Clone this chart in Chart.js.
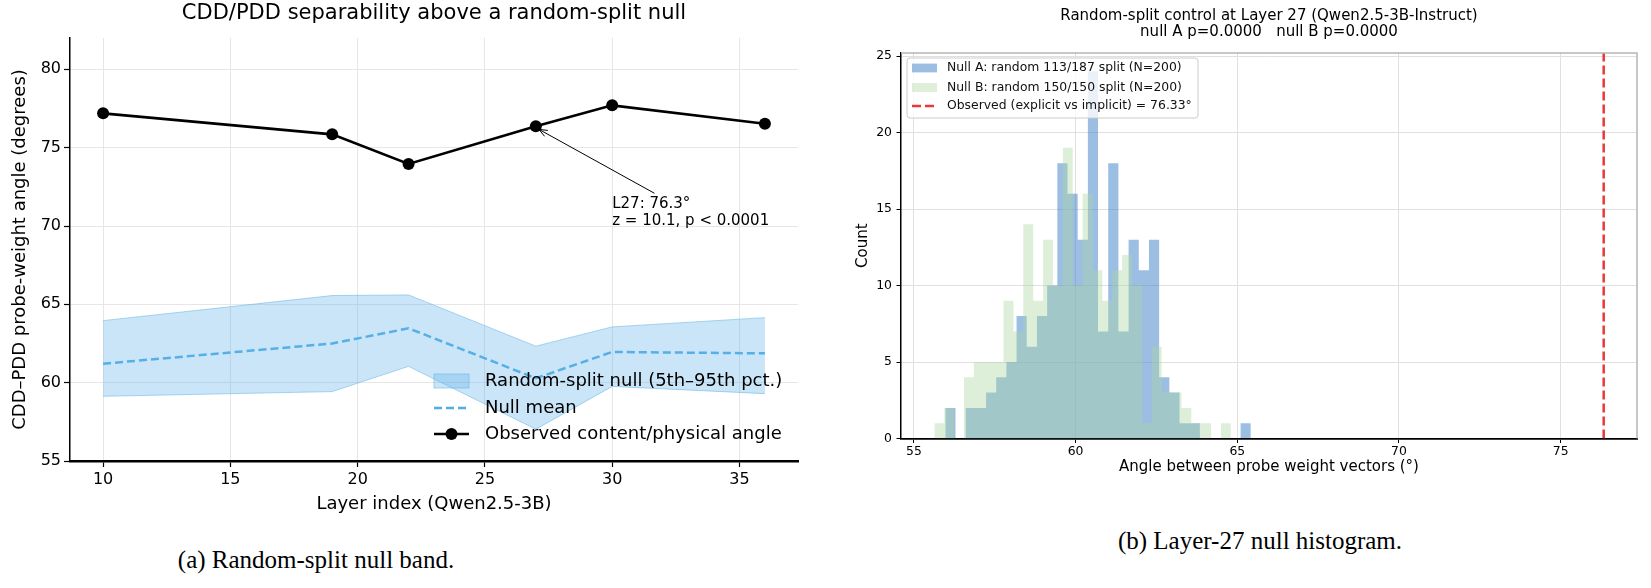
<!DOCTYPE html>
<html>
<head>
<meta charset="utf-8">
<script src="https://cdn.jsdelivr.net/npm/chart.js@4.4.1/dist/chart.umd.min.js"></script>
<style>
  body { margin: 0; background: #fff; width: 1651px; height: 588px; overflow: hidden; position: relative; }
  #bandWrap { position: absolute; left: 0; top: 0; width: 830px; height: 520px; }
  #histWrap { position: absolute; left: 840px; top: 0; width: 811px; height: 520px; }
  .caption {
    position: absolute;
    font-family: "Liberation Serif", "Times New Roman", serif;
    font-size: 25px;
    color: #000;
    white-space: nowrap;
    transform: translateX(-50%);
  }
</style>
</head>
<body>
<div id="bandWrap"><canvas id="bandChart" width="830" height="520"></canvas></div>
<div id="histWrap"><canvas id="histChart" width="811" height="520"></canvas></div>
<div class="caption" style="left:316px; top:546px">(a) Random-split null band.</div>
<div class="caption" style="left:1260px; top:527px">(b) Layer-27 null histogram.</div>

<script>
// ---- panel (a): observed angle vs random-split null, per layer ----
const layers = [10, 19, 22, 27, 30, 36];
const observedAngle = [77.19, 75.85, 73.96, 76.36, 77.70, 76.53];
const nullMean = [61.21, 62.50, 63.47, 60.28, 61.96, 61.87];
const nullLow = [59.13, 59.43, 61.04, 57.03, 59.76, 59.30];
const nullHigh = [63.96, 65.56, 65.60, 62.33, 63.56, 64.15];
const layerTicks = [10, 15, 20, 25, 30, 35];
const angleTicks = [55, 60, 65, 70, 75, 80];

// ---- panel (b): layer-27 null histograms (30 bins each) ----
const binEdgesA = [55.970, 56.285, 56.600, 56.915, 57.230, 57.544, 57.859, 58.174, 58.489, 58.804,
  59.119, 59.434, 59.749, 60.064, 60.379, 60.693, 61.008, 61.323, 61.638, 61.953,
  62.268, 62.583, 62.898, 63.213, 63.528, 63.843, 64.157, 64.472, 64.787, 65.102, 65.417];
const countsA = [2, 0, 2, 2, 3, 4, 5, 8, 6, 8, 10, 18, 16, 13, 24, 7, 18, 7, 13, 11,
  13, 4, 3, 1, 1, 0, 0, 0, 0, 1];
const binEdgesB = [55.632, 55.938, 56.243, 56.549, 56.854, 57.160, 57.466, 57.771, 58.077, 58.382,
  58.688, 58.994, 59.299, 59.605, 59.910, 60.216, 60.522, 60.827, 61.133, 61.438,
  61.744, 62.050, 62.355, 62.661, 62.966, 63.272, 63.578, 63.883, 64.189, 64.494, 64.800];
const countsB = [1, 2, 0, 4, 5, 5, 5, 9, 7, 14, 9, 13, 10, 19, 10, 16, 11, 9, 11, 12,
  10, 1, 6, 3, 3, 2, 1, 1, 0, 1];
const observedL27 = 76.33;
const histAngleTicks = [55, 60, 65, 70, 75];
const countTicks = [0, 5, 10, 15, 20, 25];

const bandFill = "rgba(100, 180, 232, 0.34)";
const bandEdge = "rgba(100, 180, 232, 0.55)";
const meanBlue = "#4fade6";
const blueA = "rgba(60, 125, 200, 0.5)";
const greenB = "rgba(171, 215, 159, 0.4)";
const obsRed = "rgba(230, 35, 35, 0.9)";

Chart.defaults.font.family = "DejaVu Sans";
Chart.defaults.color = "#000";
Chart.defaults.animation = false;

const pts = (xs, ys) => xs.map((x, i) => ({ x: x, y: ys[i] }));
// histogram outline: each edge carries the count of the bin to its right
const histPts = (edges, counts) => edges.map((x, i) => ({ x: x, y: i < counts.length ? counts[i] : 0 }));
const fixTicks = (values) => (scale) => { scale.ticks = values.map((v) => ({ value: v })); };

function drawArrow(ctx, x1, y1, x2, y2) {
  const a = Math.atan2(y2 - y1, x2 - x1);
  const len = 9;
  ctx.beginPath();
  ctx.moveTo(x1, y1);
  ctx.lineTo(x2, y2);
  ctx.stroke();
  ctx.beginPath();
  ctx.moveTo(x2 - len * Math.cos(a - 0.38), y2 - len * Math.sin(a - 0.38));
  ctx.lineTo(x2, y2);
  ctx.lineTo(x2 - len * Math.cos(a + 0.38), y2 - len * Math.sin(a + 0.38));
  ctx.stroke();
}

// titles, axis labels, annotation and legend for panel (a)
const bandDecor = {
  id: "bandDecor",
  afterDraw(chart) {
    const { ctx, chartArea: area, scales } = chart;
    const cx = (area.left + area.right) / 2;
    ctx.save();
    ctx.fillStyle = "#000";
    ctx.textAlign = "center";
    ctx.textBaseline = "middle";
    ctx.font = "21px 'DejaVu Sans'";
    ctx.fillText("CDD/PDD separability above a random-split null", cx, 14);
    ctx.font = "18px 'DejaVu Sans'";
    ctx.fillText("Layer index (Qwen2.5-3B)", cx, 504);
    ctx.save();
    ctx.translate(20, (area.top + area.bottom) / 2);
    ctx.rotate(-Math.PI / 2);
    ctx.fillText("CDD\u2013PDD probe-weight angle (degrees)", 0, 0);
    ctx.restore();

    // annotation at layer 27
    const X = scales.x, Y = scales.y;
    ctx.strokeStyle = "#000";
    ctx.lineWidth = 1;
    drawArrow(ctx, X.getPixelForValue(31.66), Y.getPixelForValue(72.09),
      X.getPixelForValue(27.12), Y.getPixelForValue(76.17));
    ctx.font = "15px 'DejaVu Sans'";
    ctx.textAlign = "left";
    const tx = X.getPixelForValue(30);
    const ty = Y.getPixelForValue(71.4);
    ctx.fillText("L27: 76.3\u00b0", tx, ty);
    ctx.fillText("z = 10.1, p < 0.0001", tx, ty + 17);

    // legend (no frame)
    const sx = 434, sw = 35, tx2 = 485;
    const rows = [381, 408, 434];
    ctx.font = "18px 'DejaVu Sans'";
    ctx.fillStyle = bandFill;
    ctx.fillRect(sx, rows[0] - 7, sw, 14);
    ctx.strokeStyle = bandEdge;
    ctx.lineWidth = 1;
    ctx.strokeRect(sx, rows[0] - 7, sw, 14);
    ctx.strokeStyle = meanBlue;
    ctx.lineWidth = 2.5;
    ctx.setLineDash([8, 4]);
    ctx.beginPath(); ctx.moveTo(sx, rows[1]); ctx.lineTo(sx + sw, rows[1]); ctx.stroke();
    ctx.setLineDash([]);
    ctx.strokeStyle = "#000";
    ctx.beginPath(); ctx.moveTo(sx, rows[2]); ctx.lineTo(sx + sw, rows[2]); ctx.stroke();
    ctx.fillStyle = "#000";
    ctx.beginPath(); ctx.arc(sx + sw / 2, rows[2], 6, 0, Math.PI * 2); ctx.fill();
    ctx.fillText("Random-split null (5th\u201395th pct.)", tx2, rows[0]);
    ctx.fillText("Null mean", tx2, rows[1]);
    ctx.fillText("Observed content/physical angle", tx2, rows[2]);
    ctx.restore();
  }
};

new Chart(document.getElementById("bandChart"), {
  type: "line",
  data: {
    datasets: [
      {
        label: "Random-split null (5th\u201395th pct.)",
        data: pts(layers, nullHigh),
        borderColor: bandEdge,
        borderWidth: 1,
        backgroundColor: bandFill,
        pointRadius: 0,
        fill: "+1",
      },
      {
        label: "null low",
        data: pts(layers, nullLow),
        borderColor: bandEdge,
        borderWidth: 1,
        pointRadius: 0,
        fill: false,
      },
      {
        label: "Null mean",
        data: pts(layers, nullMean),
        borderColor: meanBlue,
        borderWidth: 2.5,
        borderDash: [8, 4],
        pointRadius: 0,
        fill: false,
      },
      {
        label: "Observed content/physical angle",
        data: pts(layers, observedAngle),
        borderColor: "#000",
        backgroundColor: "#000",
        borderWidth: 2.6,
        pointRadius: 6,
        pointBorderWidth: 0,
        fill: false,
      },
    ],
  },
  options: {
    responsive: false,
    layout: { autoPadding: false, padding: { left: 0, right: 32, top: 38, bottom: 0 } },
    plugins: { legend: { display: false }, tooltip: { enabled: false } },
    scales: {
      x: {
        type: "linear",
        min: 8.7,
        max: 37.3,
        afterBuildTicks: fixTicks(layerTicks),
        afterFit: (s) => { s.height = 59; },
        ticks: { font: { size: 16 }, color: "#000", padding: 3, maxRotation: 0 },
        grid: { color: "#e6e6e6", lineWidth: 1, tickLength: 6, tickColor: "#000", tickWidth: 1.2 },
        border: { color: "#000", width: 2.5 },
      },
      y: {
        min: 55,
        max: 82,
        afterBuildTicks: fixTicks(angleTicks),
        afterFit: (s) => { s.width = 70; },
        ticks: { font: { size: 16 }, color: "#000", padding: 3 },
        grid: { color: "#e6e6e6", lineWidth: 1, tickLength: 6, tickColor: "#000", tickWidth: 1.2 },
        border: { color: "#000", width: 1.5 },
      },
    },
  },
  plugins: [bandDecor],
});

// titles, labels, frame and legend for panel (b)
const histDecor = {
  id: "histDecor",
  afterDraw(chart) {
    const { ctx, chartArea: area } = chart;
    const cx = (area.left + area.right) / 2;
    ctx.save();
    // gray top/right frame
    ctx.strokeStyle = "#b5b5b5";
    ctx.lineWidth = 1.5;
    ctx.beginPath();
    ctx.moveTo(area.left, area.top);
    ctx.lineTo(area.right, area.top);
    ctx.lineTo(area.right, area.bottom);
    ctx.stroke();

    ctx.fillStyle = "#000";
    ctx.textAlign = "center";
    ctx.textBaseline = "middle";
    ctx.font = "15px 'DejaVu Sans'";
    ctx.fillText("Random-split control at Layer 27 (Qwen2.5-3B-Instruct)", cx, 16);
    ctx.fillText("null A p=0.0000   null B p=0.0000", cx, 32);
    ctx.fillText("Angle between probe weight vectors (\u00b0)", cx, 467);
    ctx.save();
    ctx.translate(23, (area.top + area.bottom) / 2);
    ctx.rotate(-Math.PI / 2);
    ctx.fillText("Count", 0, 0);
    ctx.restore();

    // legend box, upper left
    const bx = 67, by = 58, bw = 291, bh = 60;
    ctx.fillStyle = "rgba(255,255,255,0.8)";
    ctx.strokeStyle = "#cccccc";
    ctx.lineWidth = 1;
    ctx.beginPath();
    ctx.roundRect(bx, by, bw, bh, 3);
    ctx.fill();
    ctx.stroke();
    const rows = [68, 87.5, 106];
    const sx = 72, sw = 25;
    ctx.fillStyle = blueA;
    ctx.fillRect(sx, rows[0] - 4.4, sw, 8.8);
    ctx.fillStyle = greenB;
    ctx.fillRect(sx, rows[1] - 4.4, sw, 8.8);
    ctx.strokeStyle = obsRed;
    ctx.lineWidth = 2.5;
    ctx.setLineDash([9, 4]);
    ctx.beginPath(); ctx.moveTo(sx, rows[2]); ctx.lineTo(sx + sw, rows[2]); ctx.stroke();
    ctx.setLineDash([]);
    ctx.fillStyle = "#111";
    ctx.textAlign = "left";
    ctx.font = "12.4px 'DejaVu Sans'";
    ctx.fillText("Null A: random 113/187 split (N=200)", 107, rows[0]);
    ctx.fillText("Null B: random 150/150 split (N=200)", 107, rows[1]);
    ctx.fillText("Observed (explicit vs implicit) = 76.33\u00b0", 107, rows[2]);
    ctx.restore();
  }
};

new Chart(document.getElementById("histChart"), {
  type: "line",
  data: {
    datasets: [
      {
        label: "Null A: random 113/187 split (N=200)",
        data: histPts(binEdgesA, countsA),
        stepped: true,
        borderColor: "rgba(0,0,0,0)",
        borderWidth: 0,
        backgroundColor: blueA,
        pointRadius: 0,
        fill: "origin",
        order: 2,
      },
      {
        label: "Null B: random 150/150 split (N=200)",
        data: histPts(binEdgesB, countsB),
        stepped: true,
        borderColor: "rgba(0,0,0,0)",
        borderWidth: 0,
        backgroundColor: greenB,
        pointRadius: 0,
        fill: "origin",
        order: 1,
      },
      {
        label: "Observed (explicit vs implicit) = 76.33\u00b0",
        data: [{ x: observedL27, y: 0 }, { x: observedL27, y: 25.2 }],
        borderColor: obsRed,
        borderWidth: 2.5,
        borderDash: [9, 4],
        pointRadius: 0,
        fill: false,
        order: 0,
      },
    ],
  },
  options: {
    responsive: false,
    layout: { autoPadding: false, padding: { left: 0, right: 14, top: 53, bottom: 0 } },
    plugins: { legend: { display: false }, tooltip: { enabled: false } },
    scales: {
      x: {
        type: "linear",
        min: 54.6,
        max: 77.36,
        afterBuildTicks: fixTicks(histAngleTicks),
        afterFit: (s) => { s.height = 81.5; },
        ticks: { font: { size: 12.4 }, color: "#000", padding: 1.5, maxRotation: 0 },
        grid: { color: "#e0e0e0", lineWidth: 1, tickLength: 4.5, tickColor: "#000", tickWidth: 1 },
        border: { color: "#000", width: 1.8 },
      },
      y: {
        min: 0,
        max: 25.2,
        afterBuildTicks: fixTicks(countTicks),
        afterFit: (s) => { s.width = 61; },
        ticks: { font: { size: 12.4 }, color: "#000", padding: 4.5 },
        grid: { color: "#e0e0e0", lineWidth: 1, tickLength: 4.5, tickColor: "#000", tickWidth: 1 },
        border: { color: "#000", width: 1.5 },
      },
    },
  },
  plugins: [histDecor],
});
</script>
</body>
</html>
